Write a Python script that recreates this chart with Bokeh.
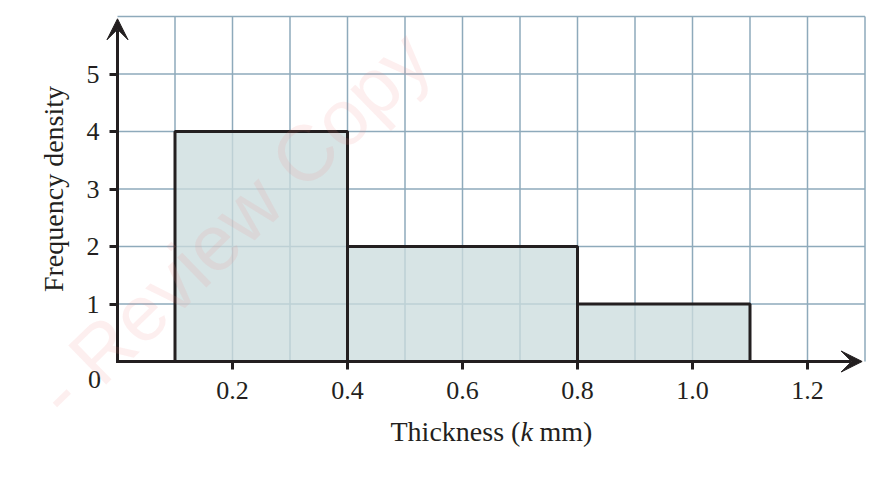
from bokeh.plotting import figure
from bokeh.models import (Range1d, FixedTicker, PrintfTickFormatter, Label, Arrow,
                          VeeHead, ColumnDataSource)
from bokeh.embed import file_html
from bokeh.resources import INLINE

# ---- data ----
bin_left = [0.1, 0.4, 0.8]
bin_right = [0.4, 0.8, 1.1]
freq_density = [4, 2, 1]
x_ticks = [0.2, 0.4, 0.6, 0.8, 1.0, 1.2]
y_ticks = [1, 2, 3, 4, 5]
x_grid = [0.1, 0.2, 0.3, 0.4, 0.5, 0.6, 0.7, 0.8, 0.9, 1.0, 1.1, 1.2, 1.3]
y_grid = [1, 2, 3, 4, 5, 6]
x_max = 1.3
y_max = 6
x_label_parts = ["Thickness (", "k", "mm)"]
y_label = "Frequency density"
watermark = "- Review Copy"

INK = "#231f20"
GRID = "#8eaabb"
FONT = "Liberation Serif"

W, H = 867, 464
X0_PX, Y0_PX = 117, 361      # pixel position of the data origin
PX_X, PX_Y = 575.0, 57.5     # pixels per data unit

p = figure(width=W, height=H, output_backend="svg", toolbar_location=None,
           x_range=Range1d(-X0_PX / PX_X, (W - X0_PX) / PX_X),
           y_range=Range1d(-(H - Y0_PX) / PX_Y, Y0_PX / PX_Y),
           min_border=0)
p.background_fill_color = "white"
p.border_fill_color = "white"
p.outline_line_color = None
p.grid.visible = False

# grid (limited to the plotting area)
p.segment(x0=x_grid, y0=[0] * len(x_grid), x1=x_grid, y1=[y_max] * len(x_grid),
          line_color=GRID, line_width=1.5)
p.segment(x0=[0] * len(y_grid), y0=y_grid, x1=[x_max] * len(y_grid), y1=y_grid,
          line_color=GRID, line_width=1.5)

# bars
src = ColumnDataSource(dict(left=bin_left, right=bin_right, top=freq_density,
                            bottom=[0] * len(freq_density)))
p.quad(left="left", right="right", top="top", bottom="bottom", source=src,
       fill_color="#cbdcdd", fill_alpha=0.77, line_color=INK, line_width=3)

# axes fixed at the origin
p.xaxis.fixed_location = 0
p.yaxis.fixed_location = 0
p.xaxis.bounds = (0, x_max)
p.yaxis.bounds = (0, y_max)
p.xaxis.ticker = FixedTicker(ticks=x_ticks)
p.xaxis.formatter = PrintfTickFormatter(format="%.1f")
p.yaxis.ticker = FixedTicker(ticks=y_ticks)
p.yaxis.formatter = PrintfTickFormatter(format="%d")
for ax in (p.xaxis, p.yaxis):
    ax.axis_line_color = None
    ax.major_tick_line_color = INK
    ax.major_tick_line_width = 3
    ax.major_tick_out = 8
    ax.major_tick_in = 0
    ax.minor_tick_line_color = None
    ax.major_label_text_font = FONT
    ax.major_label_text_font_size = "26px"
    ax.major_label_text_color = INK
p.xaxis.major_label_standoff = 12
p.yaxis.major_label_standoff = 10
p.yaxis.axis_label = y_label
p.yaxis.axis_label_text_font = FONT
p.yaxis.axis_label_text_font_size = "28px"
p.yaxis.axis_label_text_font_style = "normal"
p.yaxis.axis_label_text_color = INK
p.yaxis.axis_label_standoff = 15

# axis lines with arrow heads
p.add_layout(Arrow(x_start=0, y_start=0, x_end=1.295, y_end=0, line_color=INK,
                   line_width=3, line_cap="square",
                   end=VeeHead(size=21, fill_color=INK, line_color=INK)))
p.add_layout(Arrow(x_start=0, y_start=0, x_end=0, y_end=5.96, line_color=INK,
                   line_width=3, line_cap="square",
                   end=VeeHead(size=21, fill_color=INK, line_color=INK)))

# origin label
p.add_layout(Label(x=0, y=0, text="0", x_offset=-23, y_offset=-18,
                   text_align="center", text_baseline="middle",
                   text_font=FONT, text_font_size="26px", text_color=INK))

# x axis label with italic k
y_lab = -70 / PX_Y
p.add_layout(Label(x=0, y=y_lab, x_offset=273, text=x_label_parts[0],
                   text_align="left", text_baseline="alphabetic",
                   text_font=FONT, text_font_size="28px", text_color=INK))
p.add_layout(Label(x=0, y=y_lab, x_offset=403, text=x_label_parts[1],
                   text_align="left", text_baseline="alphabetic",
                   text_font=FONT, text_font_size="28px", text_font_style="italic",
                   text_color=INK))
p.add_layout(Label(x=0, y=y_lab, x_offset=422, text=x_label_parts[2],
                   text_align="left", text_baseline="alphabetic",
                   text_font=FONT, text_font_size="28px", text_color=INK))

# watermark
p.add_layout(Label(x=0.52, y=5.5, text=watermark, angle=0.77,
                   text_align="right", text_baseline="middle",
                   text_font="Liberation Sans", text_font_size="79px",
                   text_color="#f08080", text_alpha=0.13))

open("out.html", "w").write(file_html(p, INLINE))
